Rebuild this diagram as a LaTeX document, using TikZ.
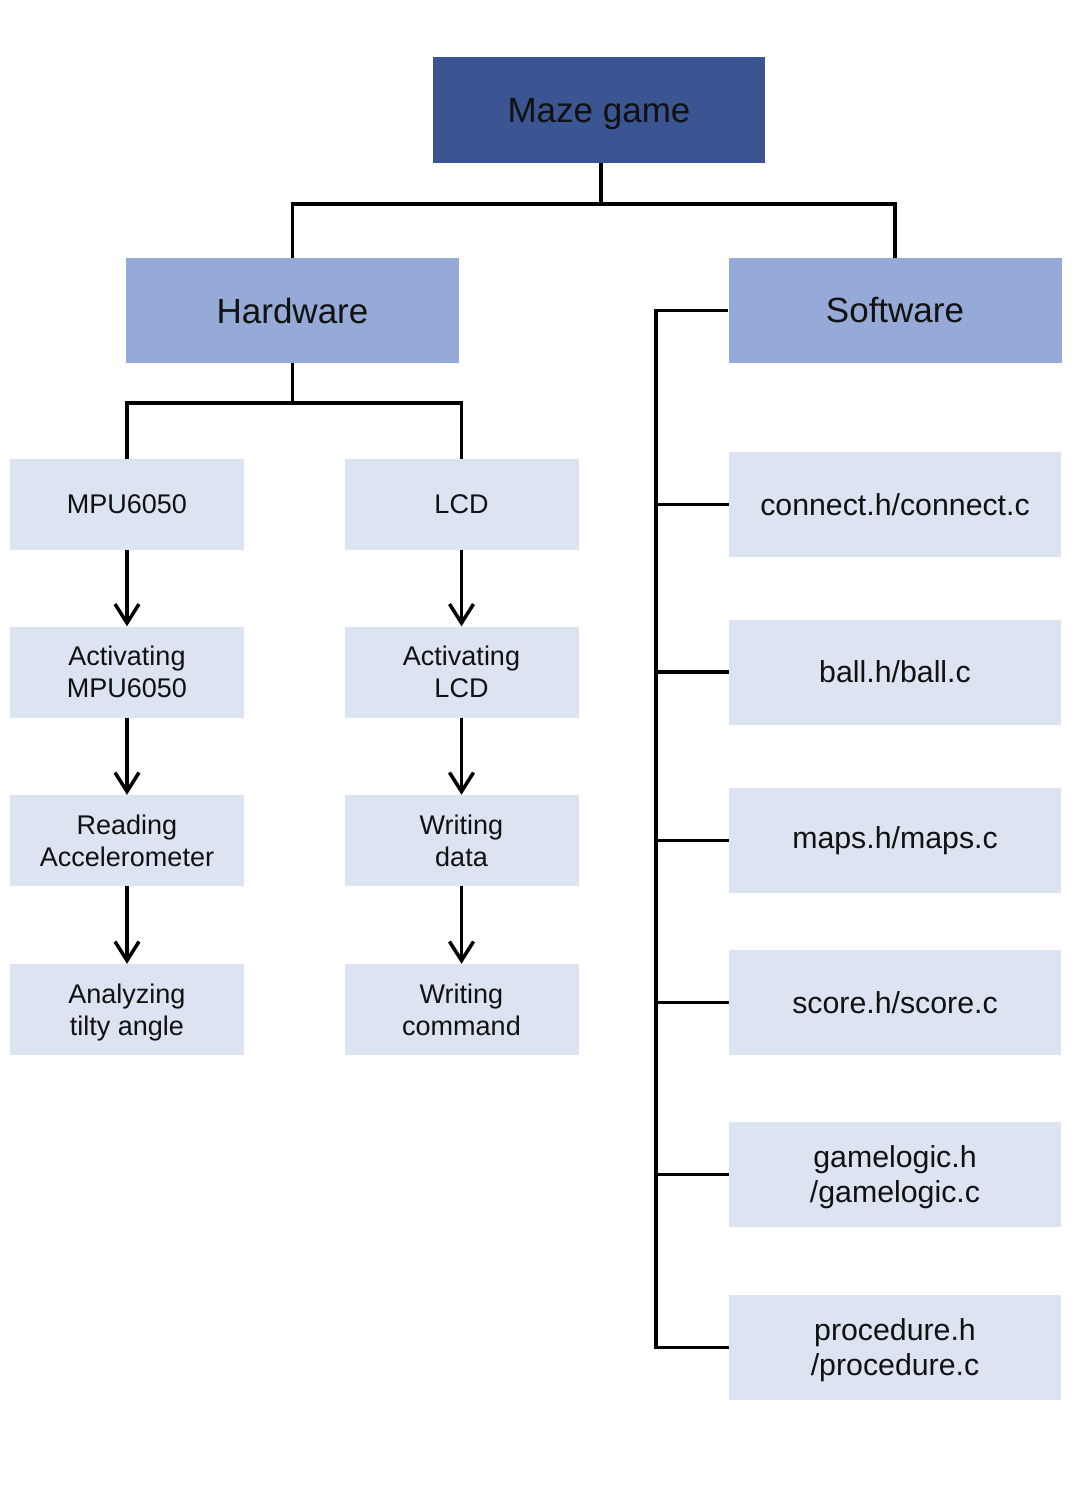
\documentclass[tikz,border=0pt]{standalone}
\usepackage{fontspec}
\setmainfont{Liberation Sans}
\usetikzlibrary{arrows.meta}
\definecolor{topblue}{HTML}{3A5592}
\definecolor{midblue}{HTML}{95AAD7}
\definecolor{lightblue}{HTML}{DCE3F1}
\definecolor{txt}{HTML}{111111}
\tikzset{
  topbox/.style={fill=topblue, draw=none, minimum width=332pt, minimum height=106pt, inner sep=0pt, text=txt, text depth=0pt, font=\fontsize{35}{40}\selectfont},
  midbox/.style={fill=midblue, draw=none, minimum width=333pt, minimum height=105pt, inner sep=0pt, text=txt, font=\fontsize{35}{40}\selectfont},
  stagebox/.style={fill=lightblue, draw=none, minimum width=234pt, minimum height=91pt, inner sep=0pt, text=txt, align=center, font=\fontsize{27}{32}\selectfont},
  filebox/.style={fill=lightblue, draw=none, minimum width=332pt, minimum height=105pt, inner sep=0pt, text=txt, align=center, font=\fontsize{30.3}{35}\selectfont},
  nodepth/.style={text depth=0pt},
  conn/.style={draw=black, line width=3.5pt},
  flow/.style={conn, -{Straight Barb[length=19pt,width=24pt,line width=3.5pt]}}
}
\begin{document}
\begin{tikzpicture}[x=1pt,y=-1pt]
\useasboundingbox (0,0) rectangle (1084,1512);
% top
\node[topbox] (maze) at (599,110) {Maze game};
\node[midbox] (hw) at (292.5,310.5) {Hardware};
\node[midbox] (sw) at (895,310.5) {Software};
% hardware stages
\node[stagebox] (mpu) at (127,504.5) {MPU6050};
\node[stagebox] (lcd) at (461.5,504.5) {LCD};
\node[stagebox] (actm) at (127,672) {Activating\\MPU6050};
\node[stagebox] (actl) at (461.5,672) {Activating\\LCD};
\node[stagebox] (read) at (127,840.5) {Reading\\Accelerometer};
\node[stagebox] (wdat) at (461.5,840.5) {Writing\\data};
\node[stagebox, nodepth] (anal) at (127,1009.5) {Analyzing\\tilty angle};
\node[stagebox] (wcmd) at (461.5,1009.5) {Writing\\command};
% software files
\node[filebox] (f1) at (895,504.5) {connect.h/connect.c};
\node[filebox] (f2) at (895,672) {ball.h/ball.c};
\node[filebox] (f3) at (895,840.5) {maps.h/maps.c};
\node[filebox] (f4) at (895,1002.5) {score.h/score.c};
\node[filebox, nodepth] (f5) at (895,1174.5) {gamelogic.h\\/gamelogic.c};
\node[filebox, nodepth] (f6) at (895,1347.5) {procedure.h\\/procedure.c};
% top tree
\coordinate (topjoin) at (601,204);
\draw[conn] (maze.south -| topjoin) -- (topjoin);
\draw[conn] (hw.north) |- (topjoin) -| (sw.north);
% hardware tree
\coordinate (hwjoin) at (292.5,403);
\draw[conn] (hw.south) -- (hwjoin);
\draw[conn] (mpu.north) |- (hwjoin) -| (lcd.north);
% flows
\draw[flow] (mpu.south) -- (actm.north);
\draw[flow] (actm.south) -- (read.north);
\draw[flow] (read.south) -- (anal.north);
\draw[flow] (lcd.south) -- (actl.north);
\draw[flow] (actl.south) -- (wdat.north);
\draw[flow] (wdat.south) -- (wcmd.north);
% software tree
\coordinate (trunk) at (656,310.5);
\draw[conn] (sw.west) -- (trunk) -- (f6.west -| trunk) -- (f6.west);
\foreach \f in {f1,f2,f3,f4,f5}{
  \draw[conn] (\f.west -| trunk) -- (\f.west);
}
\end{tikzpicture}
\end{document}
